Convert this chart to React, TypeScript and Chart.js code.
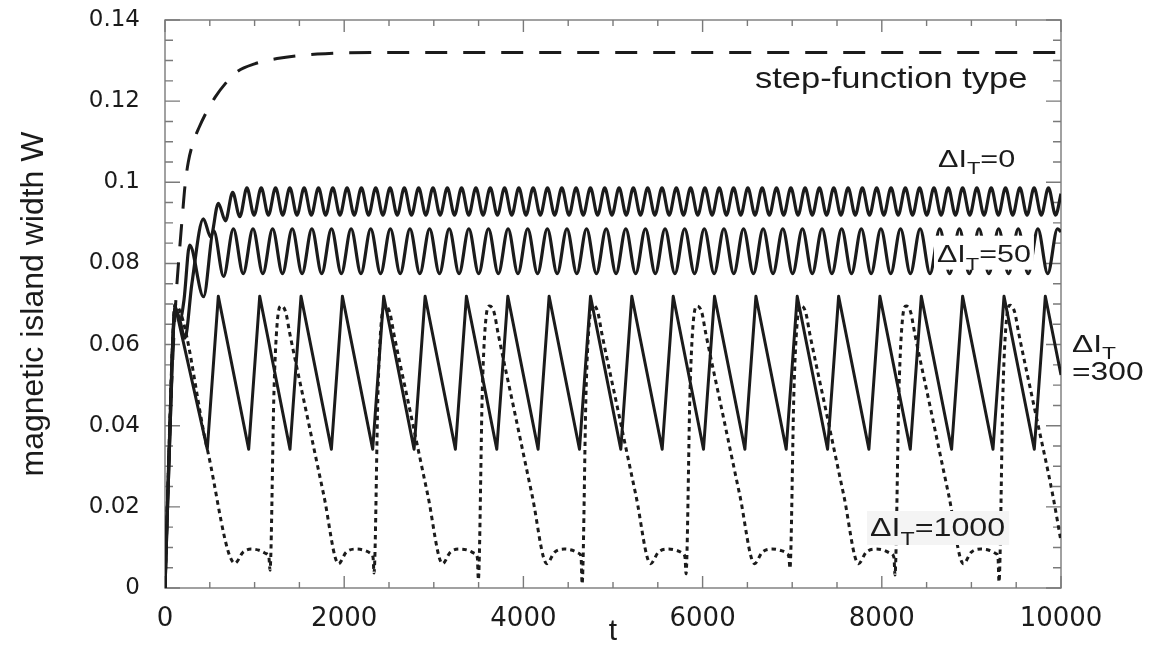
import React, { useEffect, useRef } from 'react';
import { Chart, registerables } from 'chart.js';

Chart.register(...registerables);

// ---------- axis tick labels ----------
const xTickLabels = ['0', '2000', '4000', '6000', '8000', '10000'];
const yTickLabels = ['0', '0.02', '0.04', '0.06', '0.08', '0.1', '0.12', '0.14'];

// ---------- series: [t, W] ----------
const stepFunction: number[][] = [
  [0, 0], [40, 0.03], [90, 0.058], [130, 0.074], [165, 0.084], [195, 0.092], [225, 0.0995],
  [260, 0.105], [310, 0.1095], [380, 0.1135], [460, 0.1172], [560, 0.121], [680, 0.1245],
  [800, 0.1272], [1000, 0.1292], [1250, 0.1305], [1700, 0.1316], [2400, 0.132], [10000, 0.132],
];

const dIT0: number[][] = [
  [0, 0], [50, 0.035], [112, 0.069], [165, 0.066], [223, 0.0616], [300, 0.075], [428, 0.091],
  [510, 0.0865], [595, 0.0948], [675, 0.0905], [755, 0.0975], [835, 0.0915],
  [914, 0.0986], [994, 0.0919], [1074, 0.0986], [1154, 0.0919], [1234, 0.0986], [1314, 0.0919],
  [1393, 0.0986], [1473, 0.0919], [1553, 0.0986], [1633, 0.0919], [1713, 0.0986], [1793, 0.0919],
  [1873, 0.0986], [1953, 0.0919], [2032, 0.0986], [2112, 0.0919], [2192, 0.0986], [2272, 0.0919],
  [2352, 0.0986], [2432, 0.0919], [2512, 0.0986], [2592, 0.0919], [2671, 0.0986], [2751, 0.0919],
  [2831, 0.0986], [2911, 0.0919], [2991, 0.0986], [3071, 0.0919], [3151, 0.0986], [3231, 0.0919],
  [3310, 0.0986], [3390, 0.0919], [3470, 0.0986], [3550, 0.0919], [3630, 0.0986], [3710, 0.0919],
  [3790, 0.0986], [3870, 0.0919], [3949, 0.0986], [4029, 0.0919], [4109, 0.0986], [4189, 0.0919],
  [4269, 0.0986], [4349, 0.0919], [4429, 0.0986], [4509, 0.0919], [4588, 0.0986], [4668, 0.0919],
  [4748, 0.0986], [4828, 0.0919], [4908, 0.0986], [4988, 0.0919], [5068, 0.0986], [5148, 0.0919],
  [5227, 0.0986], [5307, 0.0919], [5387, 0.0986], [5467, 0.0919], [5547, 0.0986], [5627, 0.0919],
  [5707, 0.0986], [5787, 0.0919], [5866, 0.0986], [5946, 0.0919], [6026, 0.0986], [6106, 0.0919],
  [6186, 0.0986], [6266, 0.0919], [6346, 0.0986], [6426, 0.0919], [6505, 0.0986], [6585, 0.0919],
  [6665, 0.0986], [6745, 0.0919], [6825, 0.0986], [6905, 0.0919], [6985, 0.0986], [7065, 0.0919],
  [7144, 0.0986], [7224, 0.0919], [7304, 0.0986], [7384, 0.0919], [7464, 0.0986], [7544, 0.0919],
  [7624, 0.0986], [7704, 0.0919], [7783, 0.0986], [7863, 0.0919], [7943, 0.0986], [8023, 0.0919],
  [8103, 0.0986], [8183, 0.0919], [8263, 0.0986], [8343, 0.0919], [8422, 0.0986], [8502, 0.0919],
  [8582, 0.0986], [8662, 0.0919], [8742, 0.0986], [8822, 0.0919], [8902, 0.0986], [8982, 0.0919],
  [9061, 0.0986], [9141, 0.0919], [9221, 0.0986], [9301, 0.0919], [9381, 0.0986], [9461, 0.0919],
  [9541, 0.0986], [9621, 0.0919], [9700, 0.0986], [9780, 0.0919], [9860, 0.0986], [9940, 0.0919],
  [10000, 0.0972],
];

const dIT50: number[][] = [
  [0, 0], [50, 0.035], [112, 0.069], [165, 0.066], [212, 0.071], [275, 0.0845], [430, 0.0718],
  [544, 0.088], [654, 0.0768],
  [763, 0.0885], [873, 0.0775], [982, 0.0885], [1092, 0.0775], [1201, 0.0885], [1311, 0.0775],
  [1420, 0.0885], [1530, 0.0775], [1639, 0.0885], [1749, 0.0775], [1858, 0.0885], [1968, 0.0775],
  [2077, 0.0885], [2187, 0.0775], [2296, 0.0885], [2406, 0.0775], [2515, 0.0885], [2625, 0.0775],
  [2734, 0.0885], [2844, 0.0775], [2953, 0.0885], [3063, 0.0775], [3172, 0.0885], [3282, 0.0775],
  [3391, 0.0885], [3501, 0.0775], [3610, 0.0885], [3720, 0.0775], [3829, 0.0885], [3939, 0.0775],
  [4048, 0.0885], [4158, 0.0775], [4267, 0.0885], [4377, 0.0775], [4486, 0.0885], [4596, 0.0775],
  [4705, 0.0885], [4815, 0.0775], [4924, 0.0885], [5034, 0.0775], [5143, 0.0885], [5253, 0.0775],
  [5362, 0.0885], [5472, 0.0775], [5581, 0.0885], [5691, 0.0775], [5800, 0.0885], [5910, 0.0775],
  [6019, 0.0885], [6129, 0.0775], [6238, 0.0885], [6348, 0.0775], [6457, 0.0885], [6567, 0.0775],
  [6676, 0.0885], [6786, 0.0775], [6895, 0.0885], [7005, 0.0775], [7114, 0.0885], [7224, 0.0775],
  [7333, 0.0885], [7443, 0.0775], [7552, 0.0885], [7662, 0.0775], [7771, 0.0885], [7881, 0.0775],
  [7990, 0.0885], [8100, 0.0775], [8209, 0.0885], [8319, 0.0775], [8428, 0.0885], [8538, 0.0775],
  [8647, 0.0885], [8757, 0.0775], [8866, 0.0885], [8976, 0.0775], [9085, 0.0885], [9195, 0.0775],
  [9304, 0.0885], [9414, 0.0775], [9523, 0.0885], [9633, 0.0775], [9742, 0.0885], [9852, 0.0775],
  [9961, 0.0885], [10000, 0.0878],
];

const dIT300: number[][] = [
  [0, 0], [35, 0.027], [80, 0.058], [112, 0.0698], [472, 0.0342], [595, 0.0719],
  [934, 0.0342], [1057, 0.0719], [1395, 0.0342], [1518, 0.0719], [1857, 0.0342], [1980, 0.0719],
  [2318, 0.0342], [2441, 0.0719], [2780, 0.0342], [2903, 0.0719], [3241, 0.0342], [3364, 0.0719],
  [3703, 0.0342], [3826, 0.0719], [4164, 0.0342], [4287, 0.0719], [4626, 0.0342], [4749, 0.0719],
  [5087, 0.0342], [5210, 0.0719], [5549, 0.0342], [5672, 0.0719], [6010, 0.0342], [6133, 0.0719],
  [6472, 0.0342], [6595, 0.0719], [6933, 0.0342], [7056, 0.0719], [7395, 0.0342], [7518, 0.0719],
  [7856, 0.0342], [7979, 0.0719], [8318, 0.0342], [8441, 0.0719], [8779, 0.0342], [8902, 0.0719],
  [9241, 0.0342], [9364, 0.0719], [9702, 0.0342], [9825, 0.0719], [10000, 0.0525],
];

const dIT1000: number[][] = [
  [0, 0], [35, 0.027], [80, 0.058], [112, 0.0698], [472, 0.0342], [781, 0.0061],
  [870, 0.0088], [960, 0.0096], [1050, 0.0093], [1125, 0.0085], [1160, 0.0075], [1172, 0.0044],
  [1217, 0.049], [1257, 0.0665], [1297, 0.0695], [1347, 0.068], [1392, 0.0628], [1572, 0.0439],
  [1772, 0.0229], [1937, 0.006], [2022, 0.0088], [2132, 0.0096], [2222, 0.0093], [2297, 0.0085],
  [2322, 0.0075], [2333, 0.0037],
  [2378, 0.049], [2418, 0.0665], [2458, 0.0695], [2508, 0.068], [2553, 0.0628], [2733, 0.0439],
  [2933, 0.0229], [3098, 0.006], [3183, 0.0088], [3293, 0.0096], [3383, 0.0093], [3458, 0.0085],
  [3486, 0.0075], [3497, 0.002],
  [3542, 0.049], [3582, 0.0665], [3622, 0.0695], [3672, 0.068], [3717, 0.0628], [3897, 0.0439],
  [4097, 0.0229], [4262, 0.006], [4347, 0.0088], [4457, 0.0096], [4547, 0.0093], [4622, 0.0085],
  [4644, 0.0075], [4655, 0.001],
  [4700, 0.049], [4740, 0.0665], [4780, 0.0697], [4830, 0.068], [4875, 0.0628], [5055, 0.0439],
  [5255, 0.0229], [5420, 0.006], [5505, 0.0088], [5615, 0.0096], [5705, 0.0093], [5780, 0.0085],
  [5804, 0.0075], [5815, 0.0035],
  [5860, 0.049], [5900, 0.0665], [5940, 0.0695], [5990, 0.068], [6035, 0.0628], [6215, 0.0439],
  [6415, 0.0229], [6580, 0.006], [6665, 0.0088], [6775, 0.0096], [6865, 0.0093], [6940, 0.0085],
  [6964, 0.0075], [6975, 0.0048],
  [7020, 0.049], [7060, 0.0665], [7100, 0.0695], [7150, 0.068], [7195, 0.0628], [7375, 0.0439],
  [7575, 0.0229], [7740, 0.006], [7825, 0.0088], [7935, 0.0096], [8025, 0.0093], [8100, 0.0085],
  [8136, 0.0075], [8147, 0.0032],
  [8192, 0.049], [8232, 0.0665], [8272, 0.0695], [8322, 0.068], [8367, 0.0628], [8547, 0.0439],
  [8747, 0.0229], [8912, 0.006], [8997, 0.0088], [9107, 0.0096], [9197, 0.0093], [9272, 0.0085],
  [9297, 0.0075], [9308, 0.0015],
  [9353, 0.049], [9393, 0.0665], [9433, 0.0697], [9483, 0.068], [9528, 0.0628], [9708, 0.0439],
  [9908, 0.0229], [10000, 0.0115],
];

// ---------- annotation texts ----------
type Part = [string, boolean];
interface Note {
  t: number;
  w: number;
  parts: Part[];
  size: number;
  sx: number;
  box?: [number, number, number, number];
  boxColor?: string;
}

const notes: Note[] = [
  { t: 6585, w: 0.1232, parts: [['step-function type', false]], size: 30, sx: 1.15 },
  { t: 8627, w: 0.10385, parts: [['ΔI', false], ['T', true], ['=0', false]], size: 23, sx: 1.33 },
  {
    t: 8616, w: 0.08043, parts: [['ΔI', false], ['T', true], ['=50', false]], size: 24, sx: 1.27,
    box: [3, 26, 3, 8], boxColor: '#ffffff',
  },
  {
    t: 7868, w: 0.01282, parts: [['ΔI', false], ['T', true], ['=1000', false]], size: 26, sx: 1.24,
    box: [3, 25, 4, 9], boxColor: '#f4f4f4',
  },
  { t: 10123, w: 0.05825, parts: [['ΔI', false], ['T', true]], size: 23, sx: 1.38 },
  { t: 10123, w: 0.05127, parts: [['=300', false]], size: 25, sx: 1.27 },
];

const FONT = '"Liberation Sans", Arial, sans-serif';
const INK = '#1b1b1b';

const toXY = (arr: number[][]) => arr.map(([x, y]) => ({ x, y }));

const framePlugin = {
  id: 'frameTicks',
  beforeDatasetsDraw(chart: any) {
    const { ctx, chartArea: a, scales } = chart;
    const xs = scales.x;
    const ys = scales.y;
    ctx.save();
    ctx.strokeStyle = '#7a7a7a';
    ctx.lineWidth = 1.4;
    ctx.strokeRect(a.left, a.top, a.right - a.left, a.bottom - a.top);
    ctx.beginPath();
    for (let v = 0; v <= 10000; v += 500) {
      const px = xs.getPixelForValue(v);
      const len = v % 2000 === 0 ? 12 : 6;
      ctx.moveTo(px, a.bottom);
      ctx.lineTo(px, a.bottom - len);
      ctx.moveTo(px, a.top);
      ctx.lineTo(px, a.top + len);
    }
    for (let i = 0; i <= 28; i++) {
      const py = ys.getPixelForValue(i * 0.005);
      const len = i % 4 === 0 ? 15 : 8;
      ctx.moveTo(a.left, py);
      ctx.lineTo(a.left + len, py);
      ctx.moveTo(a.right, py);
      ctx.lineTo(a.right - len, py);
    }
    ctx.stroke();
    ctx.restore();
  },
  afterDatasetsDraw(chart: any) {
    const { ctx, scales } = chart;
    ctx.save();
    for (const n of notes) {
      const x0 = scales.x.getPixelForValue(n.t);
      const y0 = scales.y.getPixelForValue(n.w);
      let width = 0;
      for (const [txt, sub] of n.parts) {
        ctx.font = `${sub ? n.size * 0.72 : n.size}px ${FONT}`;
        width += ctx.measureText(txt).width;
      }
      width *= n.sx;
      if (n.box) {
        ctx.fillStyle = n.boxColor || '#fff';
        ctx.fillRect(x0 - n.box[0], y0 - n.box[1], width + n.box[0] + n.box[2], n.box[1] + n.box[3]);
      }
      ctx.save();
      ctx.translate(x0, y0);
      ctx.scale(n.sx, 1);
      ctx.fillStyle = INK;
      ctx.textBaseline = 'alphabetic';
      ctx.textAlign = 'left';
      let cx = 0;
      for (const [txt, sub] of n.parts) {
        const s = sub ? n.size * 0.72 : n.size;
        ctx.font = `${s}px ${FONT}`;
        ctx.fillText(txt, cx, sub ? n.size * 0.34 : 0);
        cx += ctx.measureText(txt).width;
      }
      ctx.restore();
    }
    ctx.restore();
  },
};

export default function App() {
  const ref = useRef<HTMLCanvasElement>(null);

  useEffect(() => {
    if (!ref.current) return;
    const chart = new Chart(ref.current, {
      type: 'line',
      data: {
        datasets: [
          {
            label: 'step-function type',
            data: toXY(stepFunction),
            borderColor: INK,
            borderWidth: 3,
            borderDash: [22, 16],
            cubicInterpolationMode: 'monotone',
            pointRadius: 0,
            fill: false,
          },
          {
            label: 'ΔIT=0',
            data: toXY(dIT0),
            borderColor: INK,
            borderWidth: 3.2,
            cubicInterpolationMode: 'monotone',
            pointRadius: 0,
            fill: false,
          },
          {
            label: 'ΔIT=50',
            data: toXY(dIT50),
            borderColor: INK,
            borderWidth: 3.2,
            cubicInterpolationMode: 'monotone',
            pointRadius: 0,
            fill: false,
          },
          {
            label: 'ΔIT=300',
            data: toXY(dIT300),
            borderColor: INK,
            borderWidth: 3,
            tension: 0,
            borderJoinStyle: 'round',
            pointRadius: 0,
            fill: false,
          },
          {
            label: 'ΔIT=1000',
            data: toXY(dIT1000),
            borderColor: INK,
            borderWidth: 3,
            borderDash: [4.5, 4],
            cubicInterpolationMode: 'monotone',
            pointRadius: 0,
            fill: false,
          },
        ],
      },
      options: {
        responsive: false,
        animation: false,
        devicePixelRatio: 1,
        events: [],
        layout: { padding: { top: 20, right: 91, left: 0, bottom: 0 } },
        plugins: { legend: { display: false }, tooltip: { enabled: false } },
        scales: {
          x: {
            type: 'linear',
            min: 0,
            max: 10000,
            grid: { display: false, drawTicks: false },
            border: { display: false },
            ticks: {
              stepSize: 2000,
              padding: 16,
              color: '#1b1b1b',
              maxRotation: 0,
              autoSkip: false,
              font: { family: 'DejaVu Sans', size: 26 },
              callback: (_v: any, i: number) => xTickLabels[i],
            },
            title: {
              display: true,
              text: 't',
              color: '#1b1b1b',
              padding: 0,
              font: { family: 'Liberation Sans', size: 30, lineHeight: 0.93 },
            },
            afterFit: (s: any) => {
              s.height = 58;
              s.paddingLeft = 0;
              s.paddingRight = 0;
            },
          },
          y: {
            type: 'linear',
            min: 0,
            max: 0.14,
            grid: { display: false, drawTicks: false },
            border: { display: false },
            ticks: {
              stepSize: 0.02,
              padding: 25,
              color: '#1b1b1b',
              autoSkip: false,
              font: { family: 'DejaVu Sans', size: 23 },
              callback: (_v: any, i: number) => yTickLabels[i],
            },
            title: {
              display: true,
              text: 'magnetic island width W',
              color: '#1b1b1b',
              padding: { top: 14.7, bottom: 0 },
              font: { family: 'Liberation Sans', size: 32, lineHeight: 1.2 },
            },
            afterFit: (s: any) => {
              s.width = 165;
              s.paddingTop = 0;
              s.paddingBottom = 0;
            },
          },
        },
      },
      plugins: [framePlugin],
    } as any);
    return () => chart.destroy();
  }, []);

  return (
    <div style={{ position: 'fixed', left: 0, top: 0, width: 1152, height: 646, background: '#fff' }}>
      <canvas ref={ref} width={1152} height={646} style={{ display: 'block', width: 1152, height: 646 }} />
    </div>
  );
}
